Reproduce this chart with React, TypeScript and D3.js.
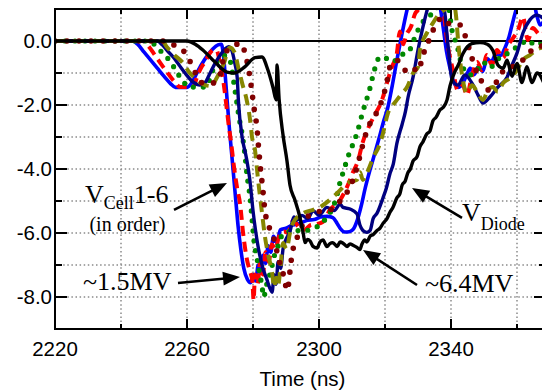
import React, { useEffect, useRef } from "react";
import * as d3 from "d3";

type Pt = [number, number];

// time (ns), voltage (MV)
const diode: Pt[] = [
  [2220, 0], [2260, 0], [2262.5, -0.1], [2264.8, -0.28], [2268.5, -0.66], [2272.1, -0.97], [2274.5, -1.0],
  [2277.6, -0.8], [2280.6, -0.52], [2282.7, -0.5], [2284.5, -0.9], [2286.1, -1.47], [2287, -1.84],
  [2287.3, -0.75], [2287.9, -1.8], [2289.1, -2.94], [2290.3, -3.75], [2291.2, -4.5], [2292.7, -4.97],
  [2294.2, -5.5], [2295.2, -6.0], [2295.8, -6.3], [2296.5, -6.2], [2297.3, -6.25], [2298.2, -6.42],
  [2299.4, -6.47], [2300.3, -6.28], [2301.2, -6.22], [2302.4, -6.42], [2303.3, -6.33], [2304.2, -6.3],
  [2305.5, -6.42], [2306.4, -6.28], [2307.3, -6.32], [2308.5, -6.42], [2309.4, -6.34], [2310.3, -6.38],
  [2311.5, -6.45], [2312.4, -6.52], [2313, -6.35], [2313.9, -6.22], [2314.5, -6.28], [2315.5, -6.1],
  [2316.4, -6.05], [2317.6, -5.92], [2318.5, -5.85], [2319.4, -5.7], [2320.6, -5.55], [2321.5, -5.35],
  [2322.4, -5.2], [2323.6, -4.9], [2324.5, -4.78], [2325.2, -4.5], [2326.1, -4.38], [2327, -4.1],
  [2327.6, -4.02], [2328.5, -3.75], [2329.7, -3.62], [2330.6, -3.3], [2331.5, -3.15], [2332.7, -2.9],
  [2333.6, -2.82], [2334.5, -2.5], [2335.5, -2.38], [2336.7, -2.15], [2337.6, -2.08], [2338.8, -1.84],
  [2339.7, -1.4], [2341.2, -0.95], [2342.2, -0.75], [2343.6, -0.4], [2344.8, -0.2], [2346.3, -0.08],
  [2348.8, -0.05], [2351, -0.1], [2352.7, -0.3], [2354.2, -0.75], [2355.8, -0.85], [2357, -0.6],
  [2358.5, -1.1], [2360, -0.7], [2361.5, -1.3], [2363, -0.8], [2364.5, -1.3], [2366.1, -1.0], [2368.5, -1.4],
];

const cell1: Pt[] = [
  [2220, 0], [2243.5, 0], [2245, -0.1], [2247, -0.35], [2249, -0.6], [2251, -0.85], [2253, -1.1],
  [2255, -1.33], [2256.5, -1.45], [2260, -1.45], [2261.5, -1.3], [2263, -1.0], [2264.5, -0.72],
  [2266, -0.48], [2267.8, -0.25], [2269.4, -0.12], [2270.4, -0.1], [2271, -0.4], [2271.6, -1.1],
  [2272.2, -1.9], [2272.9, -2.8], [2273.6, -3.6], [2274.2, -4.3], [2274.8, -5.0], [2275.5, -5.8],
  [2276.3, -6.5], [2277.2, -7.1], [2278.3, -7.45], [2279.3, -7.55], [2280.2, -7.3], [2280.8, -7.5],
  [2281.6, -7.0], [2282.3, -7.25], [2283.0, -6.7], [2283.8, -6.95], [2284.6, -6.4], [2285.4, -6.6],
  [2286.2, -6.1], [2287.2, -6.3], [2288.3, -5.9], [2290, -5.85], [2292, -5.75], [2294.2, -5.7],
  [2296.5, -5.6], [2298.5, -5.58], [2300.5, -5.5], [2302.5, -5.48], [2304.2, -5.52], [2305.5, -5.7],
  [2306.6, -5.88], [2307.8, -5.97], [2309.2, -5.96], [2310.4, -5.88], [2311.6, -5.6], [2312.8, -5.15],
  [2314.0, -4.6], [2315.4, -4.05], [2316.8, -3.55], [2318.3, -3.0], [2319.6, -2.5], [2320.8, -2.1],
  [2322.1, -1.45], [2323.6, -0.6], [2325.2, 0.25], [2326.2, 0.75], [2327.1, 1.15], [2329, 1.7],
  [2332, 1.9], [2335, 1.6], [2336.9, 0.95], [2337.8, 0.3], [2338.6, -0.3], [2339.7, -0.85],
  [2340.9, -1.3], [2342.1, -1.45], [2343.4, -1.35], [2344.6, -1.1], [2345.8, -0.85], [2347, -1.05],
  [2348.3, -0.8], [2349.6, -0.95], [2350.9, -0.55], [2352.2, -0.65], [2353.6, -0.4], [2355, -0.45],
  [2356.4, -0.2], [2357.5, 0.1], [2358.5, 0.5], [2359.5, 0.9], [2360.4, 1.2], [2362, 1.7],
  [2364.5, 1.5], [2366, 0.8], [2367, 0.5], [2368.5, 0.7],
];

const cell2: Pt[] = [
  [2220, 0], [2246.5, 0], [2248, -0.12], [2250, -0.4], [2252, -0.7], [2254, -0.98], [2256, -1.25],
  [2258, -1.44], [2261.8, -1.44], [2263.3, -1.05], [2264.5, -0.8], [2265.5, -0.65], [2266.8, -0.4],
  [2268, -0.28], [2269, -0.3], [2270, -0.7], [2271, -1.25], [2271.8, -1.9], [2272.6, -2.6],
  [2273.4, -3.2], [2274.2, -3.9], [2275.2, -4.6], [2276.1, -5.1], [2277, -6.0], [2278.2, -6.85],
  [2279.1, -7.2], [2279.8, -7.5], [2280.2, -8.1], [2280.6, -7.3], [2281.4, -7.6], [2282.2, -6.9],
  [2283, -7.3], [2283.8, -6.6], [2284.8, -6.9], [2285.7, -6.35], [2286.8, -6.5], [2287.9, -6.1],
  [2289.4, -5.95], [2290.5, -6.0], [2292.2, -5.6], [2293.8, -5.8], [2295.5, -5.9], [2297.5, -5.75],
  [2299.4, -5.72], [2301.2, -5.65], [2303.3, -5.28], [2306.4, -4.97], [2308.5, -4.56], [2310.3, -4.1],
  [2311.8, -3.75], [2313.3, -3.15], [2314.8, -2.75], [2316.4, -2.4], [2319.1, -1.84], [2320.6, -1.31],
  [2322.1, -0.81], [2323.6, -0.38], [2324.5, 0.3], [2325.5, -0.1], [2326.5, 0.2], [2327.9, 0.45],
  [2329.1, 0.85], [2330, 0.97], [2332, 1.5], [2335, 1.5], [2337.6, 0.97], [2339, -0.13],
  [2340.6, -0.91], [2342, -1.53], [2343.6, -1.38], [2344.8, -1.69], [2346.4, -1.06], [2347.9, -0.66],
  [2349.4, -0.91], [2350.9, -0.44], [2352.4, -0.75], [2353.9, -0.28], [2355.8, -0.53], [2357.3, -0.13],
  [2358.8, 0.09], [2360.3, 0.34], [2361.8, 0.75], [2363.3, 0.03], [2364.8, 0.41], [2367, 0.19], [2368.5, 0.3],
];

const cell3: Pt[] = [
  [2220, 0], [2248.5, 0], [2250.9, -0.19], [2252.8, -0.4], [2254.8, -0.62], [2256.8, -0.95],
  [2258.5, -1.22], [2260.9, -1.44], [2265.5, -1.44], [2266.5, -1.3], [2267.5, -1.0], [2268.5, -0.75],
  [2270, -0.55], [2271.5, -0.45], [2272.6, -0.52], [2273.5, -0.8], [2274.2, -1.3], [2275, -1.85],
  [2275.8, -2.4], [2276.7, -2.9], [2277.5, -3.5], [2278.2, -4.2], [2279.1, -4.88], [2279.7, -5.55],
  [2280.3, -6.25], [2281.2, -6.8], [2282.1, -7.3], [2282.7, -7.65], [2283.3, -8.0], [2283.9, -7.7],
  [2284.8, -7.4], [2285.6, -7.1], [2286.5, -6.7], [2287.6, -6.4], [2288.9, -6.05], [2290.6, -5.95],
  [2292.5, -6.0], [2294.2, -5.9], [2296.1, -5.92], [2298.2, -5.85], [2300.3, -5.75], [2302.4, -5.5],
  [2304.2, -5.2], [2305.5, -4.8], [2306.4, -4.4], [2307.5, -4.05], [2308.5, -3.7], [2310, -3.3],
  [2311.5, -2.88], [2313.3, -2.2], [2315.5, -1.45], [2316.4, -1.06], [2318.5, -0.5], [2320.6, -0.55],
  [2322.4, -0.65], [2324.5, -0.45], [2327, -0.35], [2329.7, 0.28], [2331.2, 0.56], [2333, 0.75],
  [2335.5, 1.0], [2337, 1.4], [2339, 1.2], [2340.3, 0.34], [2341.8, -0.13], [2343.3, -0.75],
  [2345.8, -1.06], [2347.9, -0.91], [2349.7, -0.66], [2351.8, -0.84], [2353.9, -0.59], [2356.4, -0.44],
  [2358.5, -0.28], [2360.9, -0.13], [2363.3, 0.03], [2365.5, -0.13], [2368.5, 0.03],
];

const cell4: Pt[] = [
  [2220, 0], [2251, 0], [2252.5, -0.12], [2254, -0.3], [2255.8, -0.5], [2257.6, -0.75], [2259.4, -1.0],
  [2261.8, -1.28], [2263.9, -1.38], [2265.5, -1.3], [2267, -1.0], [2268.5, -0.7], [2270, -0.45],
  [2271.5, -0.25], [2272.6, -0.18], [2273.6, -0.3], [2274.5, -0.7], [2275.2, -1.13], [2275.6, -1.9],
  [2276.7, -3.0], [2277.9, -3.6], [2279, -4.3], [2280, -5.3], [2281.5, -6.4], [2283, -7.1],
  [2284.2, -7.45], [2285, -7.7], [2285.8, -7.85], [2286.4, -7.3], [2287, -7.6], [2287.6, -6.9],
  [2288.4, -7.1], [2289.1, -6.5], [2290, -6.2], [2291.2, -5.95], [2292.4, -5.5], [2293.3, -5.6],
  [2294.8, -5.45], [2296.6, -5.55], [2298.2, -5.3], [2300, -5.45], [2302.4, -5.2], [2304.6, -5.3],
  [2306.4, -5.1], [2307.3, -5.2], [2309.4, -5.25], [2311.5, -5.4], [2312.4, -5.75], [2313.3, -5.92],
  [2314.5, -5.98], [2315.5, -5.92], [2316.4, -5.55], [2317.6, -5.38], [2319.4, -4.9], [2320.4, -4.6],
  [2321.5, -4.15], [2322.5, -3.85], [2323.6, -3.2], [2325.2, -2.6], [2326.2, -2.2], [2327, -1.75],
  [2328.5, -1.13], [2330, -0.28], [2331.5, 0.44], [2333, 1.06], [2334.5, 1.6], [2336.7, 1.45],
  [2338.2, 0.81], [2339.1, -0.13], [2340.3, -1.2], [2342.1, -1.38], [2344.2, -1.06], [2346.7, -1.38],
  [2348.2, -1.69], [2349.7, -1.94], [2351.8, -1.75], [2354.2, -1.44], [2357, -1.13], [2358.5, -0.75],
  [2360, -0.38], [2361.8, 0.25], [2363.9, 0.66], [2366.1, 0.81], [2368.5, 0.66],
];

const cell5: Pt[] = [
  [2220, 0], [2252.5, 0], [2253.9, -0.19], [2256, -0.42], [2258.8, -0.69], [2260.5, -0.95],
  [2262.4, -1.16], [2264, -1.3], [2265.5, -1.38], [2267.6, -1.41], [2268.5, -1.25], [2270, -0.95],
  [2271.5, -0.6], [2272, -0.4], [2273, -0.2], [2274.5, -0.38], [2275.5, -0.81], [2276.7, -1.31],
  [2278.2, -1.9], [2279.1, -2.45], [2279.7, -3.0], [2280.6, -3.4], [2281.5, -4.3], [2282.7, -5.35],
  [2283.6, -6.1], [2284.5, -6.63], [2285.8, -7.25], [2286.4, -7.7], [2287, -7.4], [2287.6, -7.65],
  [2288.3, -7.1], [2289.1, -6.31], [2290.2, -6.5], [2291.2, -6.0], [2292.1, -5.69], [2295.2, -5.38],
  [2298.2, -5.28], [2300.3, -5.19], [2304.2, -4.88], [2306.4, -4.66], [2308.5, -4.44], [2311.5, -4.34],
  [2312.4, -4.1], [2313.3, -4.34], [2314.5, -4.13], [2316.4, -3.65], [2318.5, -3.2], [2319.4, -2.88],
  [2320.9, -2.25], [2322.4, -2.0], [2323.6, -1.84], [2325.2, -1.63], [2326.7, -1.44], [2328.5, -1.0],
  [2330, -0.81], [2330.6, -0.28], [2332.7, 0.25], [2334.5, 0.56], [2336.7, 0.88], [2338.8, 1.06],
  [2340.3, 1.45], [2341.5, 0.81], [2342.4, -0.28], [2343.6, -1.22], [2344.8, -1.63], [2346.4, -1.38],
  [2347.9, -1.59], [2349.7, -1.84], [2351.2, -1.53], [2352.7, -1.44], [2354.2, -1.59], [2355.8, -1.31],
  [2357.9, -1.16], [2360, -0.91], [2361.8, -0.59], [2363.9, -0.44], [2365.8, -0.28], [2368.5, -0.19],
];

const cell6: Pt[] = [
  [2220, 0], [2254, 0], [2255.5, -0.1], [2257.9, -0.22], [2260.3, -0.5], [2261.8, -0.84],
  [2264.8, -1.31], [2267.9, -1.31], [2270, -1.06], [2271.5, -0.38], [2273.9, -0.19], [2276.1, -0.06],
  [2277.6, -0.38], [2279.1, -1.16], [2280, -1.84], [2280.6, -2.31], [2281.2, -2.69], [2281.5, -3.09],
  [2282.1, -3.8], [2283, -4.66], [2283.6, -5.28], [2285.2, -5.91], [2286.7, -6.31], [2287.6, -6.75],
  [2288.8, -7.16], [2289.7, -7.5], [2290.2, -7.8], [2290.7, -7.65], [2291.2, -7.2], [2291.8, -6.69],
  [2294, -6.0], [2296.4, -5.5], [2299.7, -5.34], [2303.3, -5.28], [2307.3, -4.88], [2309.4, -4.56],
  [2311.5, -3.95], [2312.4, -3.6], [2313.9, -3.0], [2315.8, -2.5], [2317.9, -2.16], [2320, -1.53],
  [2320.9, -1.13], [2321.5, -0.81], [2323.6, -0.6], [2325.2, -0.8], [2326.7, -0.95], [2328.2, -0.84],
  [2330, -0.95], [2331.5, -0.44], [2332.7, -0.13], [2334.2, 0.25], [2335.8, 0.59], [2337.6, 0.72],
  [2339.1, 0.56], [2340.6, 0.5], [2342.7, 0.5], [2344.2, 0.19], [2345.8, -0.34], [2347.3, -0.84],
  [2348.8, -1.16], [2350.9, -1.53], [2352.7, -1.47], [2354.8, -1.06], [2357.3, -0.84], [2360, -0.75],
  [2361.8, -0.59], [2363.9, -0.34], [2365.8, -0.22], [2368.5, -0.13],
];

const xMajorTicks = [2220, 2260, 2300, 2340];
const xMinorTicks = [2240, 2280, 2320, 2360];
const yMajorTicks = [0, -2, -4, -6, -8];
const yMinorTicks = [-1, -3, -5, -7];
const yTickLabels = ["0.0", "-2.0", "-4.0", "-6.0", "-8.0"];
const gridX = [2240, 2260, 2280, 2300, 2320, 2340, 2360];
const gridY = [-1, -2, -3, -4, -5, -6, -7, -8];

// arrows: [fromT, fromV] -> [tipT, tipV]
const arrows: { from: Pt; to: Pt }[] = [
  { from: [2256.06, -5.28], to: [2272.12, -4.44] },
  { from: [2257.27, -7.56], to: [2276.06, -7.375] },
  { from: [2329.7, -7.625], to: [2313.33, -6.53] },
  { from: [2343.33, -5.53], to: [2328.18, -4.59] },
];

const W = 542;
const H = 390;
const margin = { left: 55, top: 9, right: 546, bottom: 329 };

const seriesStyles = [
  { data: cell1, color: "#0000ff", width: 3.6, dash: null as string | null, cap: "butt" },
  { data: cell2, color: "#ff0000", width: 4, dash: "10 6", cap: "butt" },
  { data: cell3, color: "#008800", width: 5.2, dash: "0 10", cap: "round" },
  { data: cell4, color: "#000080", width: 3.4, dash: null, cap: "butt" },
  { data: cell5, color: "#868600", width: 4, dash: "11 7", cap: "butt" },
  { data: cell6, color: "#800000", width: 5.6, dash: "0 12", cap: "round" },
  { data: diode, color: "#000000", width: 3.4, dash: null, cap: "butt" },
];

const App = () => {
  const svgRef = useRef<SVGSVGElement>(null);

  useEffect(() => {
    const svg = d3.select(svgRef.current);
    svg.selectAll("*").remove();

    const x = d3.scaleLinear().domain([2220, 2220 + (margin.right - margin.left) / 3.3]).range([margin.left, margin.right]);
    const y = d3.scaleLinear().domain([-9, 1]).range([margin.bottom, margin.top]);

    svg.append("rect").attr("width", W).attr("height", H).attr("fill", "white");

    svg.append("defs").append("clipPath").attr("id", "plotClip")
      .append("rect")
      .attr("x", margin.left).attr("y", margin.top)
      .attr("width", margin.right - margin.left).attr("height", margin.bottom - margin.top);

    // dotted grid
    const grid = svg.append("g").attr("stroke", "#8a8a8a").attr("stroke-width", 1.5).attr("stroke-dasharray", "1.5 2.6");
    gridX.forEach(t => {
      grid.append("line").attr("x1", x(t)).attr("x2", x(t)).attr("y1", margin.top).attr("y2", margin.bottom);
    });
    gridY.forEach(v => {
      grid.append("line").attr("x1", margin.left).attr("x2", margin.right).attr("y1", y(v)).attr("y2", y(v));
    });

    // zero line
    svg.append("line")
      .attr("x1", margin.left).attr("x2", margin.right)
      .attr("y1", y(0)).attr("y2", y(0))
      .attr("stroke", "black").attr("stroke-width", 2);

    // traces
    const line = d3.line<Pt>().x(d => x(d[0])).y(d => y(d[1])).curve(d3.curveMonotoneX);
    const traces = svg.append("g").attr("clip-path", "url(#plotClip)");
    seriesStyles.forEach(s => {
      const p = traces.append("path")
        .attr("d", line(s.data))
        .attr("fill", "none")
        .attr("stroke", s.color)
        .attr("stroke-width", s.width)
        .attr("stroke-linecap", s.cap)
        .attr("stroke-linejoin", "round");
      if (s.dash) p.attr("stroke-dasharray", s.dash);
    });

    // frame
    svg.append("rect")
      .attr("x", margin.left).attr("y", margin.top)
      .attr("width", margin.right - margin.left).attr("height", margin.bottom - margin.top)
      .attr("fill", "none").attr("stroke", "black").attr("stroke-width", 2);

    // ticks
    const ticks = svg.append("g").attr("stroke", "black").attr("stroke-width", 2);
    yMajorTicks.forEach(v => {
      ticks.append("line").attr("x1", margin.left).attr("x2", margin.left + 12).attr("y1", y(v)).attr("y2", y(v));
      ticks.append("line").attr("x1", margin.right).attr("x2", margin.right - 12).attr("y1", y(v)).attr("y2", y(v));
    });
    yMinorTicks.forEach(v => {
      ticks.append("line").attr("x1", margin.left).attr("x2", margin.left + 7).attr("y1", y(v)).attr("y2", y(v));
      ticks.append("line").attr("x1", margin.right).attr("x2", margin.right - 7).attr("y1", y(v)).attr("y2", y(v));
    });
    xMajorTicks.forEach(t => {
      ticks.append("line").attr("x1", x(t)).attr("x2", x(t)).attr("y1", margin.bottom).attr("y2", margin.bottom - 10);
      ticks.append("line").attr("x1", x(t)).attr("x2", x(t)).attr("y1", margin.top).attr("y2", margin.top + 10);
    });
    xMinorTicks.forEach(t => {
      ticks.append("line").attr("x1", x(t)).attr("x2", x(t)).attr("y1", margin.bottom).attr("y2", margin.bottom - 5);
      ticks.append("line").attr("x1", x(t)).attr("x2", x(t)).attr("y1", margin.top).attr("y2", margin.top + 5);
    });

    // tick labels
    const sans = "Arial, 'Liberation Sans', sans-serif";
    yMajorTicks.forEach((v, i) => {
      svg.append("text")
        .attr("x", margin.left - 3).attr("y", y(v)).attr("dy", "0.35em")
        .attr("text-anchor", "end").attr("font-family", sans).attr("font-size", 20.5)
        .text(yTickLabels[i]);
    });
    xMajorTicks.forEach(t => {
      svg.append("text")
        .attr("x", x(t)).attr("y", margin.bottom + 27)
        .attr("text-anchor", "middle").attr("font-family", sans).attr("font-size", 20.5)
        .text(String(t));
    });
    svg.append("text")
      .attr("x", (margin.left + margin.right) / 2 + 2).attr("y", 386)
      .attr("text-anchor", "middle").attr("font-family", sans).attr("font-size", 20.5)
      .text("Time (ns)");

    // arrows
    arrows.forEach(a => {
      const x1 = x(a.from[0]), y1 = y(a.from[1]);
      const x2 = x(a.to[0]), y2 = y(a.to[1]);
      const len = Math.hypot(x2 - x1, y2 - y1);
      const ux = (x2 - x1) / len, uy = (y2 - y1) / len;
      const hl = 17, hw = 7;
      const bx = x2 - ux * hl, by = y2 - uy * hl;
      svg.append("line")
        .attr("x1", x1).attr("y1", y1).attr("x2", bx + ux * 2).attr("y2", by + uy * 2)
        .attr("stroke", "black").attr("stroke-width", 2.6);
      svg.append("polygon")
        .attr("points", [[x2, y2], [bx - uy * hw, by + ux * hw], [bx + uy * hw, by - ux * hw]].map(p => p.join(",")).join(" "))
        .attr("fill", "black");
    });

    // annotations
    const serif = "'Times New Roman', 'Liberation Serif', serif";
    const vcell = svg.append("text")
      .attr("x", x(2229.1)).attr("y", y(-5.06))
      .attr("font-family", serif).attr("font-size", 26);
    vcell.append("tspan").text("V");
    vcell.append("tspan").attr("font-size", 18).attr("dy", 6).text("Cell");
    vcell.append("tspan").attr("dy", -6).text("1-6");

    svg.append("text")
      .attr("x", x(2241.97)).attr("y", y(-5.95))
      .attr("text-anchor", "middle").attr("font-family", serif).attr("font-size", 20)
      .text("(in order)");

    svg.append("text")
      .attr("x", x(2228.5)).attr("y", y(-7.78))
      .attr("font-family", serif).attr("font-size", 26)
      .text("~1.5MV");

    svg.append("text")
      .attr("x", x(2332.1)).attr("y", y(-7.84))
      .attr("font-family", serif).attr("font-size", 26)
      .text("~6.4MV");

    const vd = svg.append("text")
      .attr("x", x(2343.33)).attr("y", y(-5.625))
      .attr("font-family", serif).attr("font-size", 26);
    vd.append("tspan").text("V");
    vd.append("tspan").attr("font-size", 18).attr("dy", 9).text("Diode");
  }, []);

  return (
    <div style={{ position: "fixed", left: 0, top: 0 }}>
      <svg ref={svgRef} width={W} height={H} style={{ display: "block" }}></svg>
    </div>
  );
};

export default App;
